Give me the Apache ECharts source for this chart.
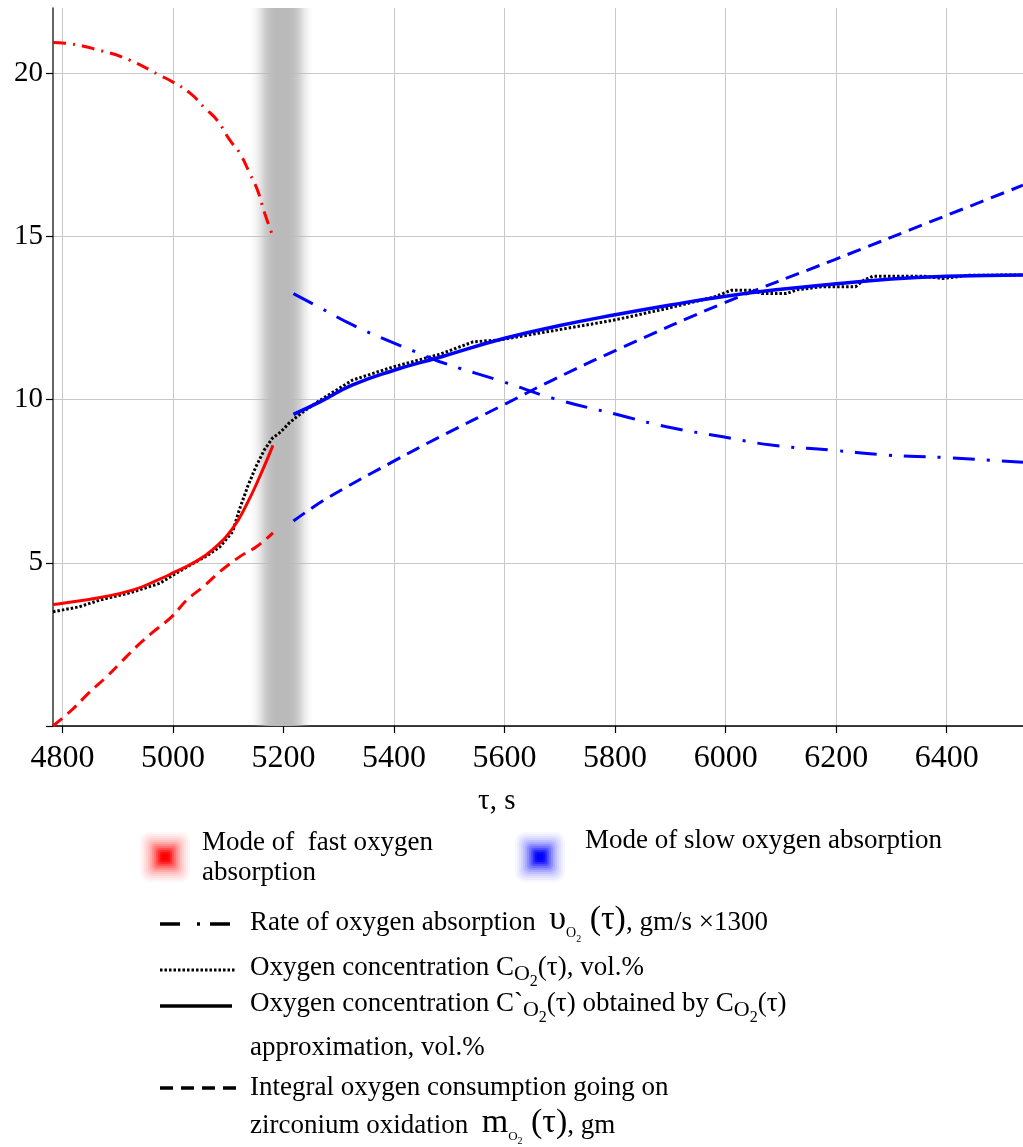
<!DOCTYPE html>
<html>
<head>
<meta charset="utf-8">
<script src="https://cdn.jsdelivr.net/npm/echarts@6/dist/echarts.min.js"></script>
<style>
html,body{margin:0;padding:0;background:#fff;}
#chart{width:1023px;height:1147px;}
</style>
</head>
<body>
<div id="chart"></div>
<script>
// ---------- data ----------
const xTicks = [4800, 5000, 5200, 5400, 5600, 5800, 6000, 6200, 6400];
const yTicks = [0, 5, 10, 15, 20];
const yLabels = [5, 10, 15, 20];

// fast absorption mode (red)
const fastRateT = [4783, 4805, 4868, 4922, 4976, 5000, 5031, 5058, 5080, 5103, 5121, 5139, 5153, 5166, 5181];
const fastRate  = [20.94, 20.92, 20.7, 20.4, 19.94, 19.73, 19.39, 18.93, 18.56, 17.95, 17.55, 16.93, 16.42, 15.71, 15.0];
const fastConcT = [4783, 4801, 4868, 4928, 4976, 5000, 5037, 5073, 5109, 5133, 5157, 5181];
const fastConc  = [3.72, 3.76, 3.94, 4.17, 4.5, 4.69, 5.0, 5.42, 6.08, 6.78, 7.64, 8.6];
const fastIntT  = [4783, 4817, 4847, 4880, 4904, 4934, 4961, 4998, 5025, 5055, 5085, 5121, 5151, 5181];
const fastInt   = [0, 0.49, 1.0, 1.51, 1.92, 2.43, 2.84, 3.35, 3.86, 4.27, 4.73, 5.19, 5.49, 5.92];

// slow absorption mode (blue)
const slowRateT = [5218, 5266, 5326, 5398, 5447, 5483, 5597, 5688, 5809, 5893, 5995, 6083, 6194, 6293, 6393, 6538];
const slowRate  = [13.25, 12.82, 12.28, 11.75, 11.41, 11.16, 10.55, 10.04, 9.52, 9.17, 8.86, 8.61, 8.45, 8.3, 8.23, 8.08];
const slowConcT = [5218, 5266, 5325, 5400, 5483, 5600, 5700, 5800, 5900, 6000, 6100, 6200, 6300, 6400, 6538];
const slowConc  = [9.55, 9.93, 10.45, 10.9, 11.3, 11.88, 12.27, 12.6, 12.9, 13.17, 13.38, 13.55, 13.7, 13.78, 13.82];
const slowIntT  = [5218, 5278, 5398, 5483, 5597, 5687, 5809, 5995, 6194, 6393, 6538];
const slowInt   = [6.28, 6.97, 8.1, 8.86, 9.83, 10.6, 11.57, 12.95, 14.27, 15.6, 16.57];

// measured oxygen concentration (black dotted)
const measT = [4783, 4830, 4868, 4922, 4976, 5000, 5031, 5061, 5085, 5108, 5120, 5135, 5150, 5165, 5180, 5195, 5210, 5225, 5240, 5266, 5325, 5398, 5483, 5543, 5591, 5694, 5796, 5893, 5980, 6010, 6050, 6065, 6110, 6130, 6175, 6235, 6250, 6266, 6360, 6393, 6440, 6538];
const measC = [3.5, 3.65, 3.86, 4.08, 4.37, 4.62, 4.93, 5.21, 5.49, 5.95, 6.62, 7.33, 7.94, 8.45, 8.82, 9.01, 9.28, 9.49, 9.68, 9.98, 10.6, 11.0, 11.39, 11.77, 11.83, 12.13, 12.43, 12.79, 13.15, 13.35, 13.35, 13.25, 13.25, 13.37, 13.46, 13.46, 13.66, 13.78, 13.78, 13.71, 13.81, 13.82];

// transition band between modes
const bandFrom = 5139, bandTo = 5253;

// ---------- helpers ----------
const pairs = (t, v) => t.map((x, i) => [x, v[i]]);
const FONT = '"Liberation Serif", "Times New Roman", serif';
const RED = '#ff0000', BLUE = '#0000ff';
const TXT = 27;

const mctx = document.createElement('canvas').getContext('2d');
function tw(text, size) { mctx.font = size + 'px ' + FONT; return mctx.measureText(text).width; }
function row(x, baseline, segs) {
  const out = [];
  let cx = x;
  segs.forEach(([text, size, dy]) => {
    out.push({
      type: 'text', x: cx, y: baseline + dy - 0.3375 * size, silent: true,
      style: { text: text, fontSize: size, fontFamily: FONT, fill: '#000', align: 'left', verticalAlign: 'middle' }
    });
    cx += tw(text, size);
  });
  return out;
}
function glow(cx, cy, rgb) {
  const layers = [[50, 0.03], [46, 0.04], [42, 0.05], [38, 0.06], [34, 0.08], [30, 0.1], [26, 0.13], [22, 0.17], [18, 0.24], [14, 0.35], [10, 0.55], [6, 0.9]];
  return layers.map(([s, a]) => ({
    type: 'rect', silent: true,
    shape: { x: cx - s / 2, y: cy - s / 2, width: s, height: s, r: s * 0.18 },
    style: { fill: 'rgba(' + rgb + ',' + a + ')', shadowBlur: 4, shadowColor: 'rgba(' + rgb + ',' + a + ')' }
  }));
}
function sample(y, x1, x2, dash, width) {
  return {
    type: 'line', silent: true,
    shape: { x1: x1, y1: y, x2: x2, y2: y },
    style: { stroke: '#000', lineWidth: width, lineDash: dash }
  };
}

const lineSeries = (name, t, v, color, width, dash, smooth) => ({
  name: name, type: 'line', data: pairs(t, v), showSymbol: false, symbol: 'none',
  smooth: smooth, animation: false,
  lineStyle: { color: color, width: width, type: dash, cap: 'butt' }
});

const graphics = [].concat(
  // axis title
  row(478, 811, [['τ, s', 29, 0]]),
  // mode legend
  glow(165, 857, '255,0,0'),
  glow(540, 857, '0,0,255'),
  row(202, 852, [['Mode of  fast oxygen', TXT, 0]]),
  row(202, 882, [['absorption', TXT, 0]]),
  row(585, 850, [['Mode of slow oxygen absorption', TXT, 0]]),
  // line legend samples
  [sample(924, 160, 230, [20, 17, 3, 10], 3.5),
   sample(970, 160, 235, [2.5, 2], 3),
   sample(1006, 160, 232, null, 3.5),
   sample(1088, 160, 237, [13, 8], 3.5)],
  row(250, 932, [['Rate of oxygen absorption  ', TXT, 0], ['υ', 34, 0], ['O', 14, 6], ['2', 10, 11], [' (τ)', 34, 0], [', gm/s ×1300', TXT, 0]]),
  row(250, 977, [['Oxygen concentration C', TXT, 0], ['O', 22, 5], ['2', 16, 10], ['(τ), vol.%', TXT, 0]]),
  row(250, 1013, [['Oxygen concentration C`', TXT, 0], ['O', 22, 5], ['2', 16, 10], ['(τ) obtained by C', TXT, 0], ['O', 22, 5], ['2', 16, 10], ['(τ)', TXT, 0]]),
  row(250, 1057, [['approximation, vol.%', TXT, 0]]),
  row(250, 1097, [['Integral oxygen consumption going on', TXT, 0]]),
  row(250, 1135, [['zirconium oxidation  ', TXT, 0], ['m', 34, 0], ['O', 13, 6], ['2', 10, 10], [' (τ)', 34, 0], [', gm', TXT, 0]])
);

const chart = echarts.init(document.getElementById('chart'), null, { renderer: 'canvas' });
chart.setOption({
  animation: false,
  backgroundColor: '#fff',
  grid: { left: 53, right: 0, top: 8, bottom: 421, containLabel: false },
  xAxis: {
    type: 'value', min: 4783, max: 6538,
    axisLine: { show: true, onZero: false, lineStyle: { color: '#000', width: 1.5 } },
    axisTick: { show: true, customValues: xTicks, length: 7, lineStyle: { color: '#000', width: 1.2 } },
    axisLabel: { show: true, customValues: xTicks, margin: 17, fontSize: 32, fontFamily: FONT, color: '#000',
      formatter: v => String(v) },
    splitLine: { show: true, lineStyle: { color: '#c8c8c8', width: 1 } }
  },
  yAxis: {
    type: 'value', min: 0, max: 22,
    axisLine: { show: true, onZero: false, lineStyle: { color: '#333', width: 1.5 } },
    axisTick: { show: true, customValues: yTicks, length: 7, lineStyle: { color: '#000', width: 1.2 } },
    axisLabel: { show: true, customValues: yLabels, margin: 10, fontSize: 29, fontFamily: FONT, color: '#000',
      formatter: v => String(v) },
    splitLine: { show: true, lineStyle: { color: '#c8c8c8', width: 1 } }
  },
  series: [
    Object.assign(lineSeries('Oxygen concentration C(τ)', measT, measC, '#000', 3, [2.5, 2], false), {
      markArea: {
        silent: true,
        itemStyle: {
          color: {
            type: 'linear', x: 0, y: 0, x2: 1, y2: 0,
            colorStops: [
              { offset: 0, color: 'rgba(186,186,186,0)' },
              { offset: 0.08, color: 'rgba(186,186,186,0.12)' },
              { offset: 0.16, color: 'rgba(186,186,186,0.35)' },
              { offset: 0.24, color: 'rgba(186,186,186,0.7)' },
              { offset: 0.32, color: 'rgba(186,186,186,0.92)' },
              { offset: 0.42, color: 'rgba(186,186,186,1)' },
              { offset: 0.62, color: 'rgba(186,186,186,1)' },
              { offset: 0.7, color: 'rgba(186,186,186,0.92)' },
              { offset: 0.78, color: 'rgba(186,186,186,0.7)' },
              { offset: 0.86, color: 'rgba(186,186,186,0.35)' },
              { offset: 0.93, color: 'rgba(186,186,186,0.12)' },
              { offset: 1, color: 'rgba(186,186,186,0)' }
            ]
          }
        },
        data: [[{ xAxis: bandFrom }, { xAxis: bandTo }]]
      }
    }),
    lineSeries('Rate (fast)', fastRateT, fastRate, RED, 3, [13, 7, 2, 7], 0.5),
    lineSeries('Approx. concentration (fast)', fastConcT, fastConc, RED, 3, 'solid', 0.5),
    lineSeries('Integral consumption (fast)', fastIntT, fastInt, RED, 3, [12, 7], 0.4),
    lineSeries('Rate (slow)', slowRateT, slowRate, BLUE, 3, [22, 12, 3, 12], 0.5),
    lineSeries('Approx. concentration (slow)', slowConcT, slowConc, BLUE, 3.5, 'solid', 0.5),
    lineSeries('Integral consumption (slow)', slowIntT, slowInt, BLUE, 3, [14, 8], 0.4)
  ],
  graphic: graphics
});
</script>
</body>
</html>
